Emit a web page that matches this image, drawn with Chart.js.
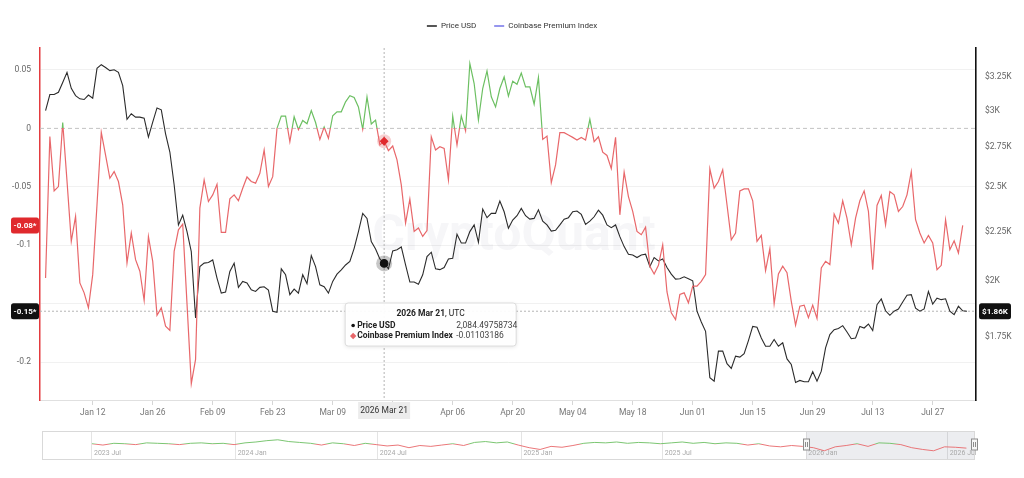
<!DOCTYPE html>
<html lang="en">

<head>
    <meta charset="UTF-8">
    <title>Price USD vs Coinbase Premium Index</title>
    <script src="https://cdn.jsdelivr.net/npm/chart.js@4.4.1/dist/chart.umd.min.js"></script>
    <style>
        html, body {
            margin: 0;
            padding: 0;
            background: #fff;
        }

        body {
            width: 1024px;
            height: 478px;
            overflow: hidden;
            position: relative;
        }

        #main { position: absolute; left: 0; top: 0; }
        #nav { position: absolute; left: 0; top: 427px; }
    </style>
</head>

<body>
    <canvas id="main" width="1024" height="425"></canvas>
    <canvas id="nav" width="1024" height="38"></canvas>

    <script>
        // day 0 = 2026 Jan 01 (UTC), one value per day
        const price = [
            3002, 3119, 3119, 3136, 3210, 3288, 3165, 3111, 3087, 3082,
            3115, 3091, 3320, 3349, 3327, 3302, 3309, 3288, 3186, 2939,
            2979, 2955, 2955, 2948, 2818, 2920, 3021, 3007, 2840, 2719,
            2515, 2285, 2339, 2249, 2144, 1830, 2069, 2086, 2089, 2102,
            2013, 1942, 1947, 2045, 2086, 1969, 1997, 1990, 1958, 1950,
            1969, 1972, 1956, 1860, 1855, 2058, 2029, 1935, 1961, 1942,
            2029, 1986, 2124, 2069, 1981, 1972, 1942, 1997, 2032, 2053,
            2077, 2094, 2161, 2249, 2349, 2321, 2196, 2158, 2107, 2084.49758734,
            2058, 2148, 2154, 2168, 2077, 1994, 1994, 1984, 2029, 2119,
            2141, 2058, 2054, 2064, 2107, 2110, 2235, 2189, 2189, 2249,
            2285, 2192, 2373, 2325, 2349, 2349, 2419, 2358, 2267, 2312,
            2336, 2377, 2336, 2317, 2321, 2369, 2306, 2285, 2252, 2256,
            2285, 2317, 2325, 2358, 2362, 2343, 2288, 2306, 2330, 2367,
            2339, 2285, 2270, 2285, 2222, 2170, 2131, 2127, 2114, 2127,
            2131, 2069, 2114, 2097, 2107, 2064, 2032, 2008, 2010, 2019,
            2010, 2000, 1860, 1813, 1773, 1587, 1574, 1691, 1691, 1641,
            1623, 1671, 1667, 1681, 1734, 1794, 1790, 1745, 1711, 1711,
            1739, 1711, 1725, 1660, 1638, 1569, 1577, 1572, 1572, 1610,
            1574, 1612, 1704, 1759, 1780, 1785, 1797, 1770, 1742, 1745,
            1794, 1787, 1804, 1776, 1889, 1915, 1862, 1842, 1860, 1870,
            1901, 1932, 1935, 1874, 1860, 1870, 1950, 1892, 1919, 1912,
            1916, 1860, 1845, 1882, 1862, 1860
        ];

        const premium = [
            -0.128, -0.007, -0.0535, -0.0498, 0.0051, -0.045, -0.0967, -0.0754, -0.1323, -0.1408,
            -0.1536, -0.1252, -0.0654, -0.0034, -0.0228, -0.0427, -0.037, -0.0455, -0.0654, -0.1152,
            -0.0896, -0.1124, -0.1223, -0.1473, -0.0925, -0.1138, -0.1599, -0.1536, -0.1693, -0.173,
            -0.1053, -0.0868, -0.0819, -0.15, -0.2185, -0.1977, -0.0683, -0.0441, -0.0626, -0.0569,
            -0.0478, -0.0891, -0.0891, -0.0603, -0.0569, -0.062, -0.0512, -0.0416, -0.0455, -0.0469,
            -0.0384, -0.0185, -0.0498, -0.0413, 0.0, 0.0105, 0.0106, -0.0114, 0.0099, -0.001,
            0.0068, 0.004, 0.0153, 0.005, -0.0094, 0.0012, -0.0085, 0.0108, 0.0142, 0.0142,
            0.0227, 0.028, 0.0264, 0.0184, -0.0008, 0.027, 0.0037, 0.0071, -0.0142, -0.01103186,
            -0.019, -0.0151, -0.027, -0.0484, -0.0811, -0.0606, -0.0882, -0.0853, -0.0925, -0.0874,
            -0.0072, -0.0185, -0.0157, -0.0171, -0.0441, 0.0105, -0.0142, 0.0105, -0.002, 0.0555,
            0.0384, 0.0071, 0.0341, 0.0492, 0.027, 0.0184, 0.0341, 0.044, 0.0276, 0.0404,
            0.0378, 0.0474, 0.0355, 0.0355, 0.0207, 0.0435, -0.0094, -0.0066, -0.0464, -0.0313,
            -0.0037, -0.0037, -0.0057, -0.0077, -0.01, -0.0077, -0.01, 0.0077, -0.0114, -0.0072,
            -0.0204, -0.0232, -0.0344, -0.0076, -0.074, -0.0375, -0.0584, -0.0711, -0.0882, -0.091,
            -0.0846, -0.118, -0.1246, -0.1172, -0.0996, -0.14, -0.1579, -0.1636, -0.1422, -0.1408,
            -0.1493, -0.135, -0.135, -0.1309, -0.1252, -0.0347, -0.0512, -0.0455, -0.0355, -0.0654,
            -0.0953, -0.0896, -0.0535, -0.0518, -0.0518, -0.062, -0.0967, -0.0916, -0.1218, -0.103,
            -0.1502, -0.1246, -0.118, -0.1235, -0.148, -0.1684, -0.1522, -0.1513, -0.1621, -0.1513,
            -0.1627, -0.1195, -0.1138, -0.1166, -0.0734, -0.0811, -0.062, -0.0768, -0.0996, -0.0768,
            -0.062, -0.0535, -0.0711, -0.1209, -0.066, -0.0575, -0.0825, -0.0541, -0.0569, -0.0711,
            -0.0669, -0.0569, -0.037, -0.0782, -0.0896, -0.0981, -0.0916, -0.0981, -0.1209, -0.1172,
            -0.0782, -0.1038, -0.0962, -0.1067, -0.0831
        ];

        const tickDays = [11, 25, 39, 53, 67, 81, 95, 109, 123, 137, 151, 165, 179, 193, 207];
        const tickLabels = ['Jan 12', 'Jan 26', 'Feb 09', 'Feb 23', 'Mar 09', 'Mar 23', 'Apr 06', 'Apr 20',
            'May 04', 'May 18', 'Jun 01', 'Jun 15', 'Jun 29', 'Jul 13', 'Jul 27'];
        const leftTicks = [-0.2, -0.15, -0.1, -0.05, 0, 0.05];
        const rightTicks = [1750, 2000, 2250, 2500, 2750, 3000, 3250];

        // navigator: one value every 14 days, day 0 = 2023 Jul 01
        const navPremium = [
            0.01, -0.02, 0.02, 0.01, -0.01, 0.03, 0.02, 0.01, -0.01, 0.02, 0.03, 0.01, 0.02, -0.01,
            0.03, 0.05, 0.08, 0.1, 0.06, 0.04, 0.02, -0.02, 0.03, 0.01, -0.03, 0.02, -0.01,
            -0.04, -0.02, -0.08, -0.03, -0.05, -0.02, 0.01, -0.03, 0.04, 0.06, 0.03, 0.05, -0.02,
            -0.08, -0.12, -0.05, -0.07, -0.03, 0.02, 0.04, 0.03, 0.05, 0.02, 0.04, 0.03, 0.01,
            0.03, 0.05, 0.02, 0.04, 0.01, 0.03, 0.02, -0.02, 0.01, -0.04, -0.06, -0.03, -0.05,
            -0.08, -0.15, -0.06, -0.03, 0.01, -0.05, 0.03, 0.02, -0.01, -0.08, -0.12, -0.15, -0.06, -0.07, -0.09
        ];
        const navTickDays = [0, 184, 366, 550, 731, 915, 1096];
        const navTickLabels = ['2023 Jul', '2024 Jan', '2024 Jul', '2025 Jan', '2025 Jul', '2026 Jan', '2026 Jul'];

        const hoverIndex = 79;
        const months = ['Jan', 'Feb', 'Mar', 'Apr', 'May', 'Jun', 'Jul', 'Aug', 'Sep', 'Oct', 'Nov', 'Dec'];

        const FONT = 'Roboto, "Noto Sans", sans-serif';
        const GREEN = '#6cbf62';
        const RED = '#e8676a';
        const PRICE_COLOR = '#2b2b2b';

        Chart.defaults.font.family = FONT;
        Chart.defaults.font.size = 8.5;
        Chart.defaults.color = '#666';

        function dayLabel(i) {
            const d = new Date(Date.UTC(2026, 0, 1 + i));
            return d.getUTCFullYear() + ' ' + months[d.getUTCMonth()] + ' ' + String(d.getUTCDate()).padStart(2, '0');
        }

        // green above zero, red below, split exactly at the zero pixel
        function zoneColor(context, axisId) {
            const chart = context.chart;
            const area = chart.chartArea;
            if (!area) return RED;
            const y0 = chart.scales[axisId].getPixelForValue(0);
            let f = (y0 - area.top) / (area.bottom - area.top);
            f = Math.min(Math.max(f, 0), 1);
            const g = chart.ctx.createLinearGradient(0, area.top, 0, area.bottom);
            g.addColorStop(0, GREEN);
            g.addColorStop(f, GREEN);
            g.addColorStop(f, RED);
            g.addColorStop(1, RED);
            return g;
        }

        function dashLine(ctx, x1, y1, x2, y2, color, dash) {
            ctx.save();
            ctx.strokeStyle = color;
            ctx.lineWidth = 1;
            ctx.setLineDash(dash);
            ctx.beginPath();
            ctx.moveTo(x1, y1);
            ctx.lineTo(x2, y2);
            ctx.stroke();
            ctx.restore();
        }

        function badge(ctx, x, y, w, text, fill) {
            ctx.save();
            ctx.fillStyle = fill;
            ctx.beginPath();
            ctx.roundRect(x, y - 8, w, 16, 2.5);
            ctx.fill();
            ctx.fillStyle = '#fff';
            ctx.font = 'bold 8px ' + FONT;
            ctx.textAlign = 'center';
            ctx.textBaseline = 'middle';
            ctx.fillText(text, x + w / 2, y + 0.5);
            ctx.restore();
        }

        const legendHeight = {
            id: 'legendHeight',
            beforeInit(chart) {
                const fit = chart.legend.fit;
                chart.legend.fit = function () {
                    fit.bind(chart.legend)();
                    this.height = 44;
                };
            }
        };

        const overlay = {
            id: 'overlay',
            beforeDatasetsDraw(chart) {
                const { ctx, chartArea: a, scales } = chart;
                ctx.save();
                ctx.font = 'bold 50px ' + FONT;
                ctx.fillStyle = 'rgba(40, 50, 90, 0.045)';
                ctx.textAlign = 'center';
                ctx.textBaseline = 'alphabetic';
                ctx.fillText('CryptoQuant', 514, 250);
                ctx.restore();

                const y0 = scales.y.getPixelForValue(0);
                dashLine(ctx, a.left, y0, a.right, y0, '#c2c2c2', [4, 3]);

                const yLast = scales.y1.getPixelForValue(price[price.length - 1]);
                dashLine(ctx, a.left, yLast, a.right, yLast, '#b4b4b4', [2, 2]);

                const xh = scales.x.getPixelForValue(hoverIndex);
                dashLine(ctx, xh, a.top, xh, a.bottom, '#b4b4b4', [2, 2]);

                // hover halos
                ctx.save();
                ctx.fillStyle = 'rgba(0, 0, 0, 0.22)';
                ctx.beginPath();
                ctx.arc(xh, scales.y1.getPixelForValue(price[hoverIndex]), 8, 0, Math.PI * 2);
                ctx.fill();
                ctx.fillStyle = 'rgba(232, 103, 106, 0.3)';
                ctx.beginPath();
                ctx.arc(xh, scales.y.getPixelForValue(premium[hoverIndex]), 7, 0, Math.PI * 2);
                ctx.fill();
                ctx.restore();
            },
            afterDraw(chart) {
                const { ctx, chartArea: a, scales } = chart;
                const xh = scales.x.getPixelForValue(hoverIndex);

                // last value badges
                const lastPremium = premium[premium.length - 1];
                badge(ctx, 11, scales.y.getPixelForValue(lastPremium), 28, lastPremium.toFixed(2) + '*', '#e0292d');

                const lastPrice = price[price.length - 1];
                const yLast = scales.y1.getPixelForValue(lastPrice);
                const leftVal = Math.trunc(scales.y.getValueForPixel(yLast) * 100) / 100;
                badge(ctx, 11, yLast, 28, leftVal + '*', '#111');
                badge(ctx, a.right + 3, yLast, 32, '$' + (lastPrice / 1000).toFixed(2) + 'K', '#111');

                // crosshair label on the x axis
                ctx.save();
                ctx.fillStyle = '#ececec';
                ctx.fillRect(xh - 26, a.bottom + 2, 52, 17);
                ctx.fillStyle = '#333';
                ctx.font = '8.5px ' + FONT;
                ctx.textAlign = 'center';
                ctx.textBaseline = 'middle';
                ctx.fillText(dayLabel(hoverIndex), xh, a.bottom + 10.5);
                ctx.restore();

                // tooltip
                const bx = xh - 39, by = 303, bw = 171, bh = 43;
                ctx.save();
                ctx.shadowColor = 'rgba(0, 0, 0, 0.12)';
                ctx.shadowBlur = 4;
                ctx.shadowOffsetY = 1;
                ctx.fillStyle = 'rgba(255, 255, 255, 0.96)';
                ctx.beginPath();
                ctx.roundRect(bx, by, bw, bh, 3);
                ctx.fill();
                ctx.shadowColor = 'transparent';
                ctx.strokeStyle = '#dcdcdc';
                ctx.lineWidth = 1;
                ctx.stroke();

                ctx.textBaseline = 'middle';
                ctx.textAlign = 'left';
                const title = dayLabel(hoverIndex);
                ctx.font = 'bold 8.5px ' + FONT;
                const wb = ctx.measureText(title).width;
                ctx.font = '8.5px ' + FONT;
                const wn = ctx.measureText(', UTC').width;
                let tx = bx + bw / 2 - (wb + wn) / 2;
                ctx.fillStyle = '#222';
                ctx.font = 'bold 8.5px ' + FONT;
                ctx.fillText(title, tx, by + 11);
                ctx.font = '8.5px ' + FONT;
                ctx.fillText(', UTC', tx + wb, by + 11);

                // row 1
                ctx.fillStyle = '#111';
                ctx.beginPath();
                ctx.arc(bx + 8, by + 22.5, 1.8, 0, Math.PI * 2);
                ctx.fill();
                ctx.font = 'bold 8.5px ' + FONT;
                ctx.fillStyle = '#222';
                ctx.fillText('Price USD', bx + 12, by + 22.5);
                ctx.font = '8.5px ' + FONT;
                ctx.fillStyle = '#444';
                ctx.fillText(price[hoverIndex].toLocaleString('en-US', { maximumFractionDigits: 8 }), bx + 111, by + 22.5);

                // row 2
                ctx.fillStyle = RED;
                ctx.beginPath();
                const dx = bx + 8, dy = by + 33;
                ctx.moveTo(dx, dy - 3.2);
                ctx.lineTo(dx + 3.2, dy);
                ctx.lineTo(dx, dy + 3.2);
                ctx.lineTo(dx - 3.2, dy);
                ctx.closePath();
                ctx.fill();
                ctx.font = 'bold 8.5px ' + FONT;
                ctx.fillStyle = '#222';
                ctx.fillText('Coinbase Premium Index', bx + 12, dy);
                const wl = ctx.measureText('Coinbase Premium Index').width;
                ctx.font = '8.5px ' + FONT;
                ctx.fillStyle = '#444';
                ctx.fillText(String(premium[hoverIndex]), Math.max(bx + 111, bx + 14 + wl), dy);
                ctx.restore();
            }
        };

        const legendColors = [PRICE_COLOR, '#7b7bea'];

        const chart = new Chart(document.getElementById('main'), {
            type: 'line',
            data: {
                datasets: [
                    {
                        label: 'Price USD',
                        data: price.map((v, i) => ({ x: i, y: v })),
                        yAxisID: 'y1',
                        borderColor: PRICE_COLOR,
                        borderWidth: 1.1,
                        pointRadius: ctx => ctx.dataIndex === hoverIndex ? 3.8 : 0,
                        pointBackgroundColor: '#111',
                        pointBorderColor: '#111',
                        tension: 0,
                        order: 2
                    },
                    {
                        label: 'Coinbase Premium Index',
                        data: premium.map((v, i) => ({ x: i, y: v })),
                        yAxisID: 'y',
                        borderColor: ctx => zoneColor(ctx, 'y'),
                        borderWidth: 1.2,
                        pointRadius: ctx => ctx.dataIndex === hoverIndex ? 3.6 : 0,
                        pointStyle: 'rectRot',
                        pointBackgroundColor: '#e0292d',
                        pointBorderColor: '#e0292d',
                        tension: 0,
                        order: 1
                    }
                ]
            },
            options: {
                responsive: false,
                animation: false,
                events: [],
                layout: { padding: { top: 4, left: 0, right: 0, bottom: 0 } },
                scales: {
                    x: {
                        type: 'linear',
                        min: -1.3,
                        max: 217.1,
                        afterBuildTicks: s => { s.ticks = tickDays.map(v => ({ value: v })); },
                        afterFit: s => { s.height = 25; },
                        ticks: {
                            autoSkip: false,
                            maxRotation: 0,
                            padding: 3,
                            color: '#777',
                            callback: (v, i) => tickLabels[i]
                        },
                        grid: { drawOnChartArea: false, tickLength: 5, color: '#d6d6d6' },
                        border: { color: '#e0e0e0' }
                    },
                    y: {
                        position: 'left',
                        min: -0.2325,
                        max: 0.0688,
                        afterBuildTicks: s => { s.ticks = leftTicks.map(v => ({ value: v })); },
                        afterFit: s => { s.width = 40; },
                        ticks: {
                            padding: 9,
                            color: '#666',
                            // -0.15 sits under the last-price badge
                            callback: v => v === 0 ? '0' : (v === -0.15 ? '' : String(+v.toFixed(2)))
                        },
                        grid: {
                            drawTicks: false,
                            color: c => c.tick && c.tick.value === 0 ? 'rgba(0,0,0,0)' : '#f1f1f1'
                        },
                        border: { color: '#e33b3f', width: 1.5 }
                    },
                    y1: {
                        type: 'logarithmic',
                        position: 'right',
                        min: 1505,
                        max: 3485,
                        afterBuildTicks: s => { s.ticks = rightTicks.map(v => ({ value: v })); },
                        afterFit: s => { s.width = 48; },
                        ticks: {
                            padding: 9,
                            color: '#666',
                            callback: v => '$' + (v / 1000) + 'K'
                        },
                        grid: { display: false, drawTicks: false },
                        border: { color: '#111', width: 1.6 }
                    }
                },
                plugins: {
                    tooltip: { enabled: false },
                    legend: {
                        position: 'top',
                        align: 'center',
                        labels: {
                            usePointStyle: true,
                            pointStyleWidth: 10,
                            padding: 18,
                            color: '#333',
                            font: { size: 8 },
                            generateLabels: c => c.data.datasets.map((ds, i) => ({
                                text: ds.label,
                                strokeStyle: legendColors[i],
                                fillStyle: legendColors[i],
                                fontColor: '#333',
                                lineWidth: 1.6,
                                pointStyle: 'line',
                                hidden: false,
                                datasetIndex: i
                            }))
                        }
                    }
                }
            },
            plugins: [legendHeight, overlay]
        });

        // navigator strip
        const selFrom = 915;   // 2026 Jan 01
        const selTo = 1130;    // 2026 Aug 04

        const navOverlay = {
            id: 'navOverlay',
            beforeDatasetsDraw(c) {
                const { ctx, chartArea: a, scales: { x } } = c;
                ctx.save();
                const x1 = x.getPixelForValue(selFrom), x2 = x.getPixelForValue(selTo);
                ctx.fillStyle = 'rgba(110, 115, 140, 0.13)';
                ctx.fillRect(x1, a.top, x2 - x1, a.bottom - a.top);
                ctx.font = '7px ' + FONT;
                ctx.fillStyle = '#a9a9a9';
                ctx.textAlign = 'left';
                ctx.textBaseline = 'middle';
                navTickDays.forEach((d, i) => ctx.fillText(navTickLabels[i], x.getPixelForValue(d) + 2, a.bottom - 7));
                ctx.restore();
            },
            afterDraw(c) {
                const { ctx, chartArea: a, scales: { x } } = c;
                ctx.save();
                ctx.strokeStyle = '#d9d9d9';
                ctx.lineWidth = 1;
                ctx.strokeRect(a.left + 0.5, a.top + 0.5, a.right - a.left - 1, a.bottom - a.top - 1);
                [selFrom, selTo].forEach(d => {
                    const hx = Math.round(x.getPixelForValue(d)) + 0.5;
                    ctx.fillStyle = '#f6f6f6';
                    ctx.strokeStyle = '#8c8c8c';
                    ctx.fillRect(hx - 3, a.top + 8, 6, 11);
                    ctx.strokeRect(hx - 3, a.top + 8, 6, 11);
                    ctx.beginPath();
                    ctx.moveTo(hx - 1, a.top + 11);
                    ctx.lineTo(hx - 1, a.top + 16);
                    ctx.moveTo(hx + 1, a.top + 11);
                    ctx.lineTo(hx + 1, a.top + 16);
                    ctx.stroke();
                });
                ctx.restore();
            }
        };

        const navChart = new Chart(document.getElementById('nav'), {
            type: 'line',
            data: {
                datasets: [{
                    data: navPremium.map((v, i) => ({ x: i * 14, y: v })),
                    borderColor: ctx => zoneColor(ctx, 'y'),
                    borderWidth: 0.9,
                    pointRadius: 0,
                    tension: 0
                }]
            },
            options: {
                responsive: false,
                animation: false,
                events: [],
                layout: { padding: { left: 42, right: 49, top: 4, bottom: 5 } },
                plugins: { legend: { display: false }, tooltip: { enabled: false } },
                scales: {
                    x: {
                        type: 'linear',
                        min: -64,
                        max: 1131,
                        afterBuildTicks: s => { s.ticks = navTickDays.map(v => ({ value: v })); },
                        afterFit: s => { s.height = 0; },
                        ticks: { display: false },
                        grid: { color: '#e4e4e4', drawTicks: false },
                        border: { display: false }
                    },
                    y: { display: false, min: -0.36, max: 0.3 }
                }
            },
            plugins: [navOverlay]
        });
    </script>
</body>

</html>
